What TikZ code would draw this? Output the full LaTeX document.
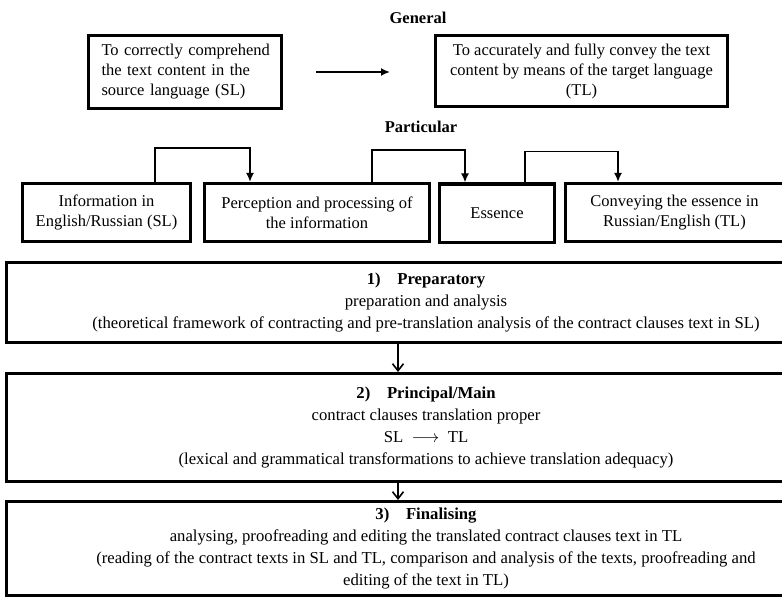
\documentclass[tikz,border=0pt]{standalone}
\usepackage{fontspec}
\setmainfont{Liberation Serif}
\usetikzlibrary{arrows.meta}

\begin{document}
\begin{tikzpicture}[x=1pt,y=-1pt,
  every node/.style={font=\fontsize{16.5}{20}\selectfont},
  head/.style={font=\fontsize{16.5}{20}\selectfont\bfseries},
  genbox/.style={draw,line width=3pt,inner sep=0pt},
  partbox/.style={draw,line width=3pt,inner sep=0pt,minimum height=58,align=center},
  stagebox/.style={draw,line width=3pt,inner sep=0pt,minimum width=839,align=center,
    font=\fontsize{16.7}{21.7}\selectfont},
  link/.style={line width=1.8pt,-{Latex[length=9pt,width=8pt]}},
  stagelink/.style={line width=1.6pt,-{Straight Barb[length=7pt,width=11pt]}}]
\useasboundingbox (0,0) rectangle (782,599);

\node[head] (general) at (418,18) {General};
\node[genbox,minimum width=193,minimum height=73,text width=167,align=left] (comprehend) at (185,72)
  {\makebox[\linewidth][s]{To correctly comprehend}\\\makebox[\linewidth][s]{the text content in the}\\source language (SL)};
\node[genbox,minimum width=292,minimum height=71,align=center] (convey) at (581.5,71)
  {To accurately and fully convey the text\\content by means of the target language\\(TL)};
\draw[link,shorten <=33pt,shorten >=44pt] (comprehend.east) -- (comprehend.east -| convey.west);

\node[head] (particular) at (421,127) {Particular};
\node[partbox,minimum width=168] (infoSL) at (106.5,212.5) {Information in\\English/Russian (SL)};
\node[partbox,minimum width=225] (percept) at (317,212.5) {Perception and processing of\\the information};
\node[partbox,minimum width=115] (essence) at (497,213) {Essence};
\node[partbox,minimum width=218] (conveyTL) at (674.5,212.5) {Conveying the essence in\\Russian/English (TL)};

\draw[link] ([xshift=48.5pt]infoSL.north) -- ++(0,-34) -| ([xshift=-67pt]percept.north);
\draw[link] ([xshift=55pt]percept.north) -- ++(0,-32) -| ([xshift=-32pt]essence.north);
\draw[link] ([xshift=28pt]essence.north) -- ++(0,-31) -| ([xshift=-56.5pt]conveyTL.north);

\node[stagebox,minimum height=80] (prep) at (426,302.5)
  {\textbf{1)\quad Preparatory}\\preparation and analysis\\(theoretical framework of contracting and pre-translation analysis of the contract clauses text in SL)};
\node[stagebox,minimum height=108] (main) at (426,427.5)
  {\textbf{2)\quad Principal/Main}\\contract clauses translation proper\\SL\ \ $\longrightarrow$\ \ TL\\(lexical and grammatical transformations to achieve translation adequacy)};
\node[stagebox,minimum height=94] (final) at (426,548.5)
  {\textbf{3)\quad Finalising}\\analysing, proofreading and editing the translated contract clauses text in TL\\(reading of the contract texts in SL and TL, comparison and analysis of the texts, proofreading and\\editing of the text in TL)};

\draw[stagelink] ([xshift=-28pt]prep.south) -- ([xshift=-28pt]main.north);
\draw[stagelink] ([xshift=-28pt]main.south) -- ([xshift=-28pt]final.north);
\end{tikzpicture}
\end{document}
